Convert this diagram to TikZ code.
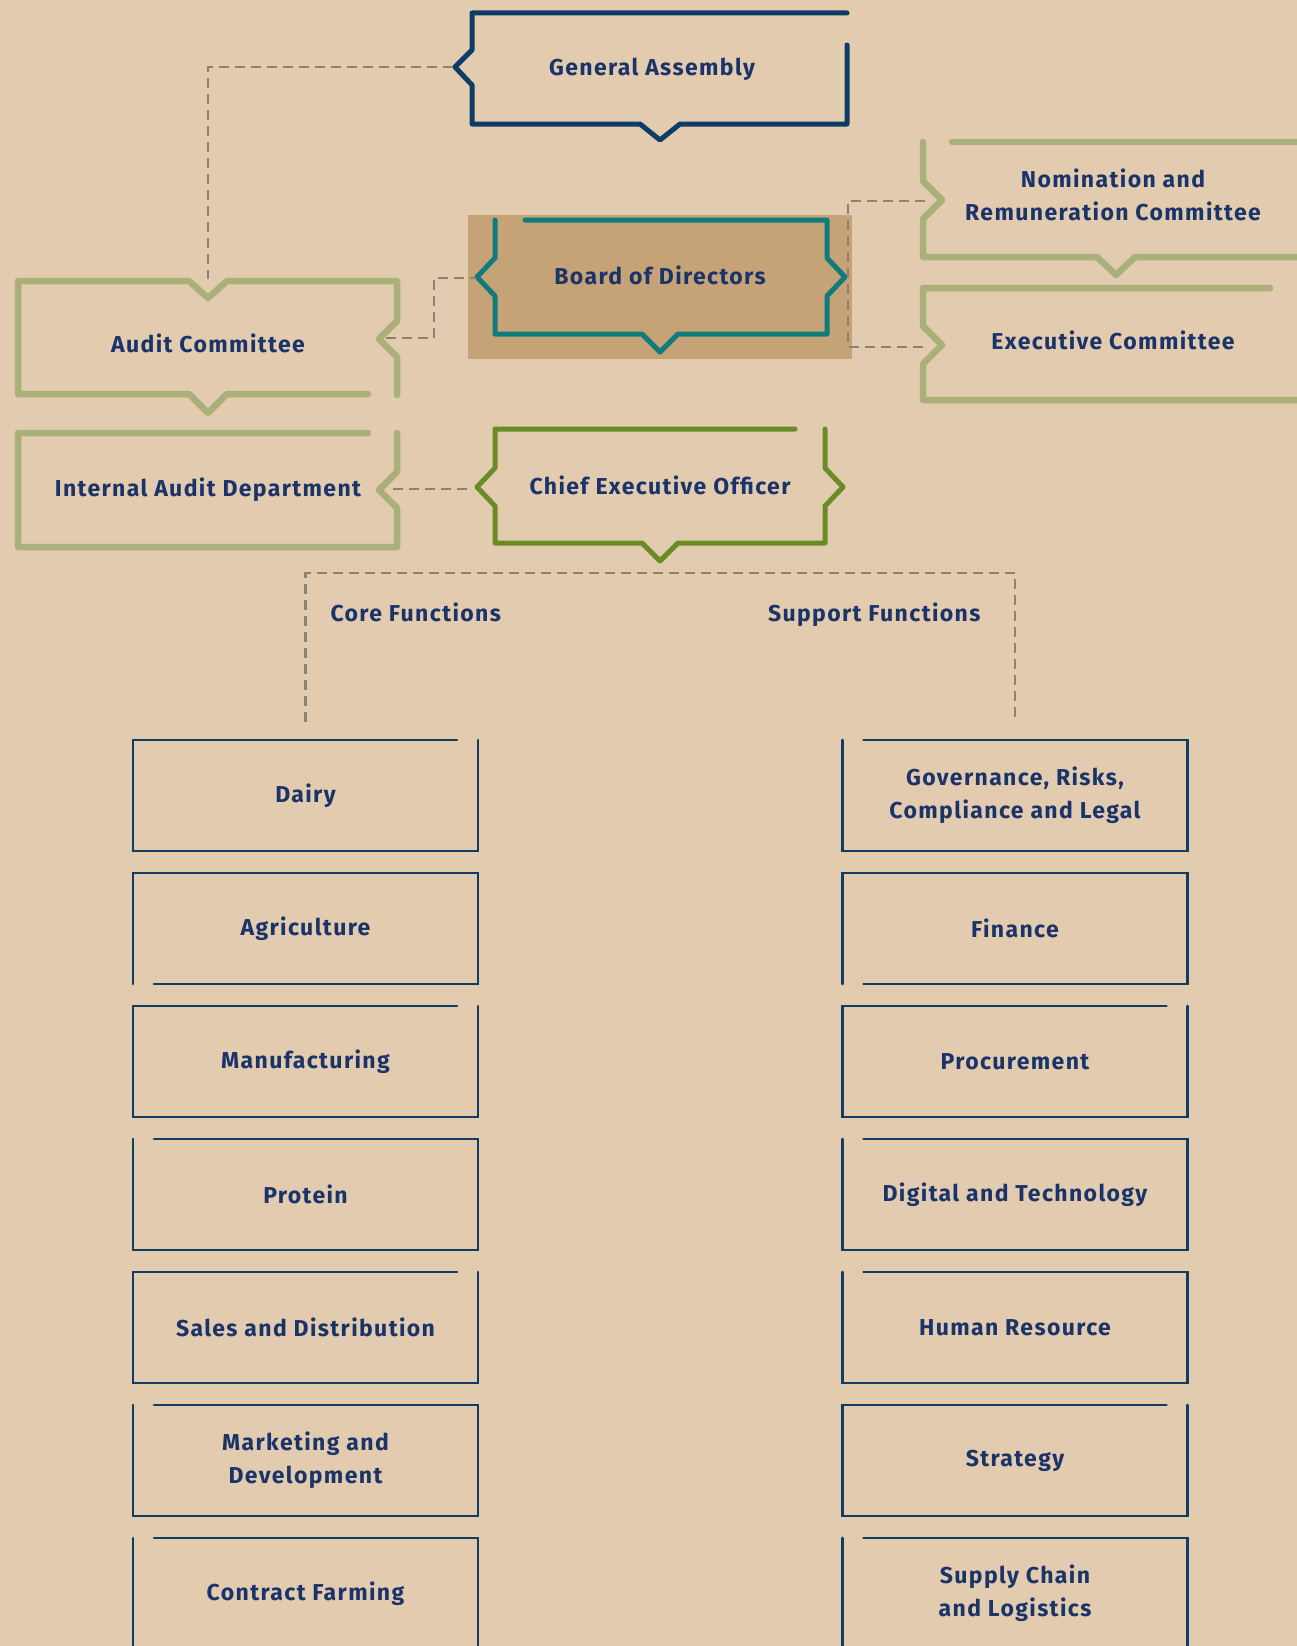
\documentclass[tikz,border=0pt]{standalone}
\usepackage{fontspec}
\setmainfont{Fira Sans}[LetterSpace=6]
\usepackage{xcolor}
\usepackage{tikz}
\usetikzlibrary{positioning, calc}

\definecolor{paper}{HTML}{E2CBAE}
\definecolor{boardFill}{HTML}{C6A277}
\definecolor{gaBlue}{HTML}{0D3D66}
\definecolor{bodTeal}{HTML}{0E7C7B}
\definecolor{cmtGreen}{HTML}{A9B07A}
\definecolor{ceoGreen}{HTML}{6A8C26}
\definecolor{unitBlue}{HTML}{123D63}
\definecolor{textBlue}{HTML}{1A3469}
\definecolor{linkGray}{HTML}{8C8273}

% open frames for the function boxes (gap at one corner)
\newcommand{\framegapTR}[1]{\draw[unitline] ($(#1.north east)+(-21,0)$) -- (#1.north west) -- (#1.south west) -- (#1.south east) -- (#1.north east);}
\newcommand{\framegapTL}[1]{\draw[unitline] ($(#1.north west)+(21,0)$) -- (#1.north east) -- (#1.south east) -- (#1.south west) -- (#1.north west);}
\newcommand{\framegapBL}[1]{\draw[unitline] ($(#1.south west)+(21,0)$) -- (#1.south east) -- (#1.north east) -- (#1.north west) -- (#1.south west);}

\begin{document}
\begin{tikzpicture}[
    x=1pt, y=-1pt,
    node distance=22pt and 0pt,
    boxtext/.style={font=\fontsize{23}{33}\selectfont\bfseries, text=textBlue, align=center},
    oneline/.style={text height=16pt, text depth=5pt},
    unitbox/.style={boxtext, minimum width=345pt, minimum height=111pt, inner sep=0pt, outer sep=0pt},
    unitline/.style={draw=unitBlue, line width=2.6pt, line cap=round},
    galine/.style={draw=gaBlue, line width=5pt, line cap=round, line join=round},
    bodline/.style={draw=bodTeal, line width=5pt, line cap=round, line join=round},
    cmtline/.style={draw=cmtGreen, line width=6.5pt, line cap=round, line join=round},
    ceoline/.style={draw=ceoGreen, line width=5pt, line cap=round, line join=round},
    dashlink/.style={draw=linkGray, line width=2.6pt, dash pattern=on 10pt off 6pt},
    grouplabel/.style={font=\fontsize{23}{26}\selectfont\bfseries, text=textBlue, oneline}
]

\useasboundingbox (0,0) rectangle (1297,1646);
\fill[paper] (0,0) rectangle (1297,1646);
\clip (0,0) rectangle (1297,1646);

% General Assembly
\draw[galine] (847,45) -- (847,124) -- (680,124) -- (660,140) -- (640,124) -- (472,124) -- (472,85) -- (455,67) -- (472,50) -- (472,13) -- (847,13);
\node[boxtext, oneline] (ga) at (652,70) {General Assembly};
\coordinate (ga-w) at (453,67);

% Board of Directors
\fill[boardFill] (468,215) rectangle (852,359);
\draw[bodline] (525,220) -- (827,220) -- (827,258) -- (845,277) -- (827,296) -- (827,334) -- (678,334) -- (660,352) -- (642,334) -- (495,334) -- (495,296) -- (477,277) -- (495,258) -- (495,220);
\node[boxtext, oneline] (bod) at (660,279) {Board of Directors};
\coordinate (bod-w) at (476,278);
\coordinate (bod-e) at (848,278);

% Audit Committee
\draw[cmtline] (368,394) -- (227,394) -- (208,413) -- (189,394) -- (18,394) -- (18,281) -- (189,281) -- (208,298) -- (227,281) -- (397,281) -- (397,321) -- (379,339) -- (397,357) -- (397,395);
\node[boxtext, oneline] (ac) at (208,347) {Audit Committee};
\coordinate (ac-n) at (208,279);
\coordinate (ac-e) at (386,338);

% Internal Audit Department
\draw[cmtline] (368,433) -- (18,433) -- (18,547) -- (397,547) -- (397,508) -- (379,490) -- (397,472) -- (397,433);
\node[boxtext, oneline] (iad) at (208,491) {Internal Audit Department};
\coordinate (iad-e) at (393,489);

% Nomination and Remuneration Committee
\draw[cmtline] (952,142) -- (1305,142);
\draw[cmtline] (923,142) -- (923,181) -- (942,200) -- (923,219) -- (923,257) -- (1097,257) -- (1116,275) -- (1135,257) -- (1305,257);
\node[boxtext] (nrc) at (1113,195) {Nomination and\\Remuneration Committee};
\coordinate (nrc-w) at (925,201);

% Executive Committee
\draw[cmtline] (1270,288) -- (923,288) -- (923,326) -- (942,345) -- (923,364) -- (923,400) -- (1305,400);
\node[boxtext, oneline] (exc) at (1113,344) {Executive Committee};
\coordinate (exc-w) at (925,347);

% Chief Executive Officer
\draw[ceoline] (795,429) -- (495,429) -- (495,468) -- (477,487) -- (495,506) -- (495,543) -- (642,543) -- (660,561) -- (678,543) -- (825,543) -- (825,506) -- (843,487) -- (825,468) -- (825,429);
\node[boxtext, oneline] (ceo) at (660,489) {Chief Executive Officer};
\coordinate (ceo-w) at (470,489);
\coordinate (fork) at (660,573);

% Core functions
\node[unitbox] (dairy) at (305.5,795.5) {Dairy};
\node[unitbox, below=of dairy] (agri) {Agriculture};
\node[unitbox, below=of agri] (manu) {Manufacturing};
\node[unitbox, below=of manu] (prot) {Protein};
\node[unitbox, below=of prot] (sales) {Sales and Distribution};
\node[unitbox, below=of sales] (mktg) {Marketing and\\Development};
\node[unitbox, below=of mktg] (farm) {Contract Farming};

% Support functions
\node[unitbox] (grc) at (1015,795.5) {Governance, Risks,\\Compliance and Legal};
\node[unitbox, below=of grc] (fin) {Finance};
\node[unitbox, below=of fin] (proc) {Procurement};
\node[unitbox, below=of proc] (digi) {Digital and Technology};
\node[unitbox, below=of digi] (hr) {Human Resource};
\node[unitbox, below=of hr] (strat) {Strategy};
\node[unitbox, below=of strat] (scl) {Supply Chain\\and Logistics};

\framegapTR{dairy} \framegapBL{agri} \framegapTR{manu} \framegapTL{prot}
\framegapTR{sales} \framegapTL{mktg} \framegapTL{farm}
\framegapTL{grc} \framegapBL{fin} \framegapTR{proc} \framegapTL{digi}
\framegapTL{hr} \framegapTR{strat} \framegapTL{scl}

% Group labels
\node[grouplabel, anchor=west] (corelbl) at (327,616) {Core Functions};
\node[grouplabel, anchor=east] (supplbl) at (984,616) {Support Functions};
\coordinate (core-in) at ($(dairy.north)+(0,-18)$);
\coordinate (supp-in) at ($(grc.north)+(0,-18)$);

% Dashed reporting lines
\draw[dashlink] (ga-w) -| (ac-n);
\draw[dashlink] (ac-e) -| ($(bod-w)+(-42,0)$) -- (bod-w);
\draw[dashlink] (nrc-w) -| (bod-e) |- (exc-w);
\draw[dashlink] (iad-e) -- (ceo-w);
\draw[dashlink] (core-in) |- (fork) -| (supp-in);

\end{tikzpicture}
\end{document}
